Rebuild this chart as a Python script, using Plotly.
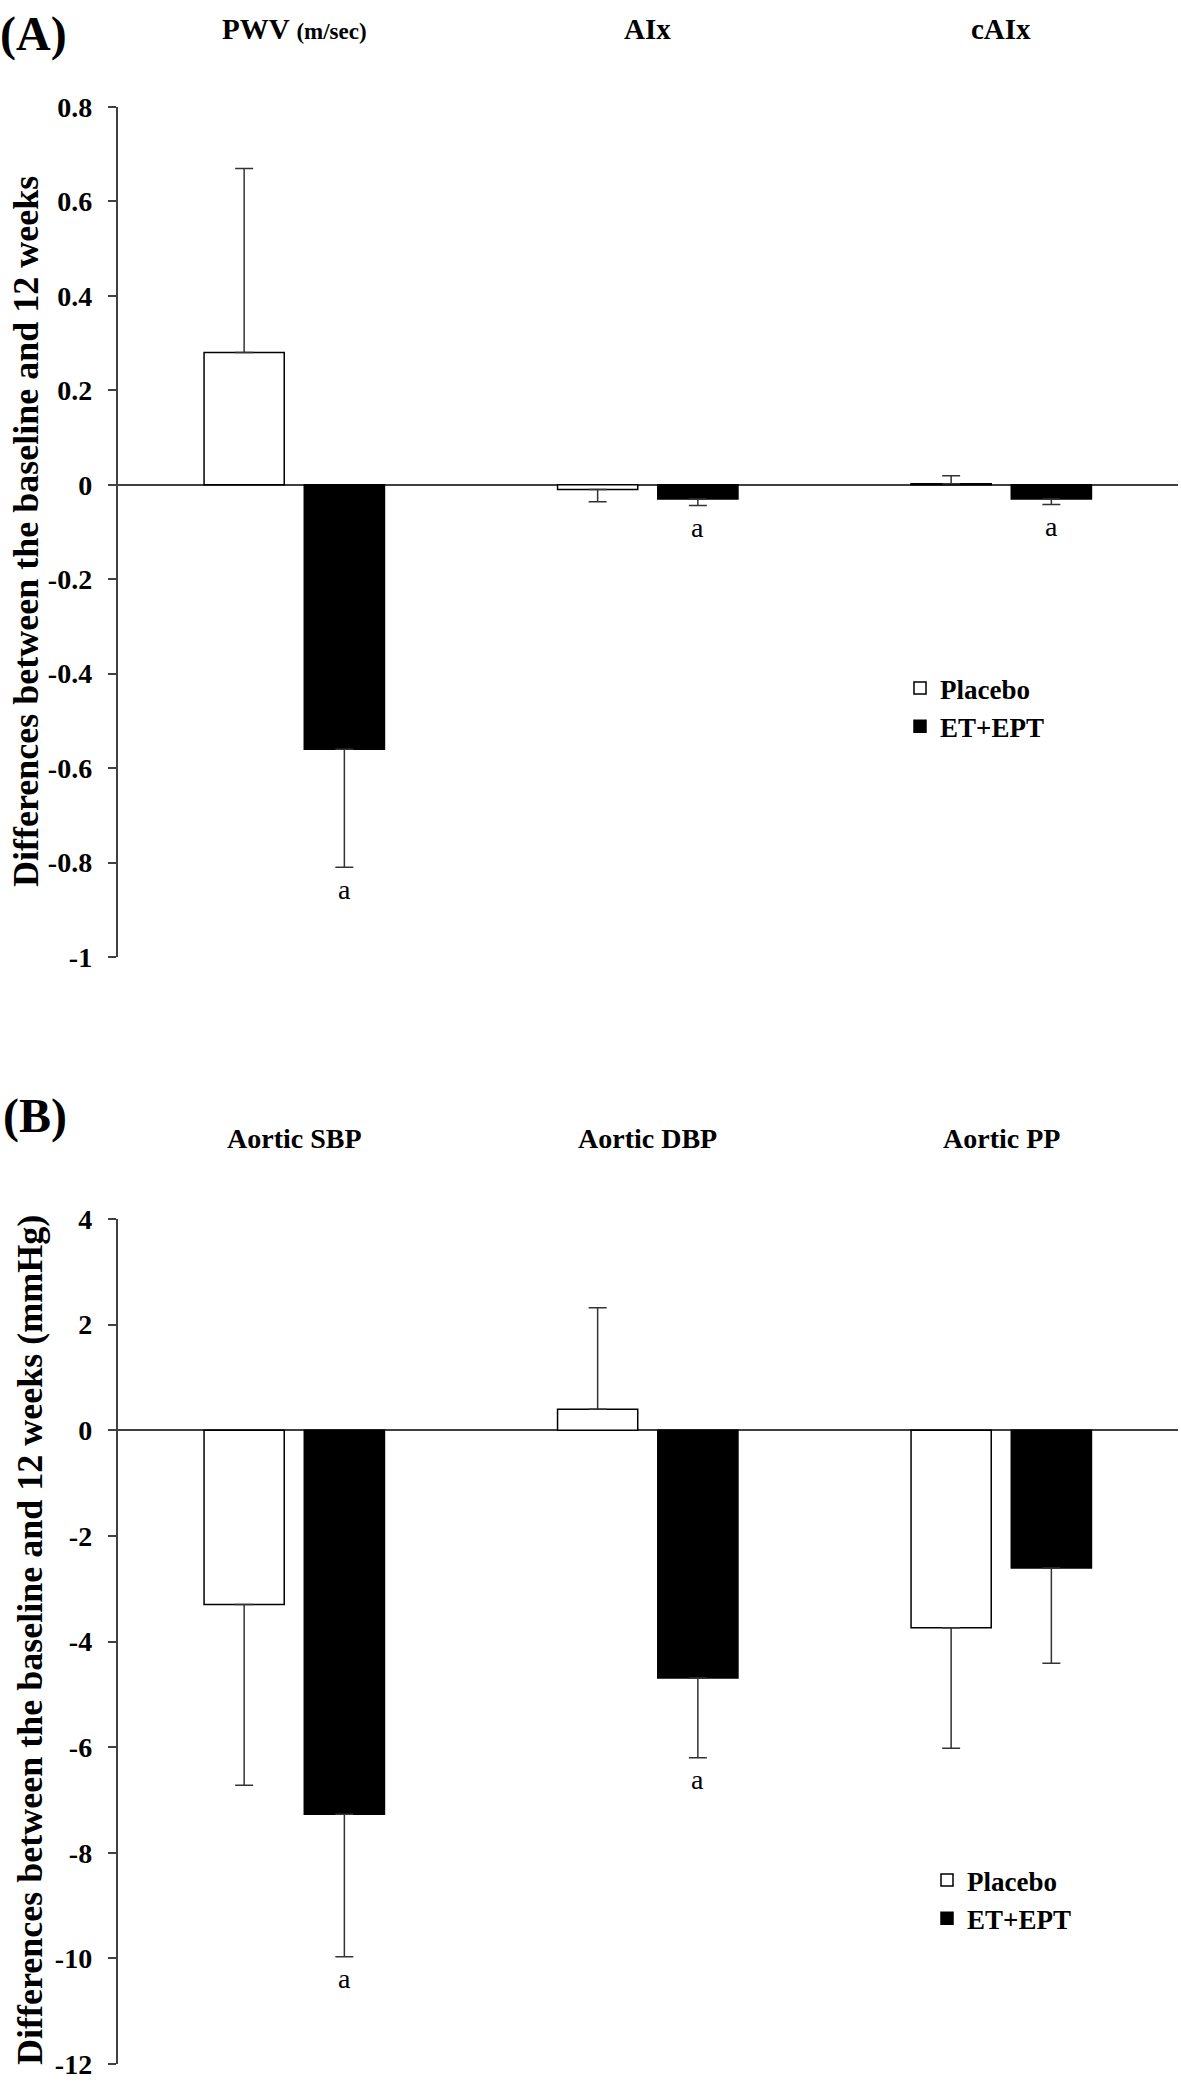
import plotly.graph_objects as go

# ---------------- data ----------------
series_names = ["Placebo", "ET+EPT"]

categories_A = ["PWV", "AIx", "cAIx"]
titles_A = ["<b>PWV </b><b><span style='font-size:23px'>(m/sec)</span></b>", "<b>AIx</b>", "<b>cAIx</b>"]
placebo_A = [0.28, -0.01, 0.002]
placebo_A_err = [0.39, 0.026, 0.017]
et_A = [-0.56, -0.03, -0.03]
et_A_err = [0.25, 0.014, 0.012]
sig_A = ["a", "a", "a"]
ticks_A = [0.8, 0.6, 0.4, 0.2, 0, -0.2, -0.4, -0.6, -0.8, -1]
ticklabels_A = ["0.8", "0.6", "0.4", "0.2", "0", "-0.2", "-0.4", "-0.6", "-0.8", "-1"]

categories_B = ["Aortic SBP", "Aortic DBP", "Aortic PP"]
placebo_B = [-3.3, 0.4, -3.74]
placebo_B_err = [3.42, 1.92, 2.28]
et_B = [-7.27, -4.69, -2.61]
et_B_err = [2.7, 1.51, 1.8]
sig_B = ["a", "a", ""]
ticks_B = [4, 2, 0, -2, -4, -6, -8, -10, -12]
ticklabels_B = ["4", "2", "0", "-2", "-4", "-6", "-8", "-10", "-12"]

ytitle_A = "Differences between the baseline and 12 weeks"
ytitle_B = "Differences between the baseline and 12 weeks (mmHg)"

# ---------------- layout constants ----------------
W, H = 1181, 2084
FONT = "Liberation Serif"
AXC = "#404040"


def px_y(p):
    return 1 - p / H


def one_sided(vals, errs):
    up = [e if v >= 0 else 0 for v, e in zip(vals, errs)]
    dn = [e if v < 0 else 0 for v, e in zip(vals, errs)]
    return up, dn


fig = go.Figure()

panels = [
    ("x", "y", "legend", categories_A, placebo_A, placebo_A_err, et_A, et_A_err),
    ("x2", "y2", "legend2", categories_B, placebo_B, placebo_B_err, et_B, et_B_err),
]
for xa, ya, lg, cats, pv, pe, ev, ee in panels:
    for name, vals, errs, fill in [(series_names[0], pv, pe, "white"), (series_names[1], ev, ee, "black")]:
        up, dn = one_sided(vals, errs)
        fig.add_trace(go.Bar(
            x=cats, y=vals, name=name, xaxis=xa, yaxis=ya, legend=lg,
            marker=dict(color=fill, line=dict(color="black", width=1.5)),
            error_y=dict(type="data", symmetric=False, array=up, arrayminus=dn,
                         color="#333333", thickness=1.5, width=9),
        ))

axis_common_y = dict(
    automargin=False,
    ticks="outside", ticklen=8, tickwidth=1.5, tickcolor=AXC,
    showline=True, linewidth=1.5, linecolor=AXC,
    zeroline=True, zerolinecolor=AXC, zerolinewidth=2,
    showgrid=False, ticklabelstandoff=10, ticklabeloverflow="allow",
    tickfont=dict(family=FONT, size=28, color="black", weight="bold"),
)
axis_common_x = dict(
    automargin=False,
    range=[-0.5, 2.5], showticklabels=False, showgrid=False, zeroline=False,
    showline=False, ticks="", domain=[117.5 / W, 1178 / W],
)

fig.update_layout(
    template="none",
    width=W, height=H,
    margin=dict(l=0, r=0, t=0, b=0, pad=0, autoexpand=False),
    paper_bgcolor="white", plot_bgcolor="white",
    barmode="group", bargap=0.433, bargroupgap=0.2,
    xaxis=dict(anchor="y", **axis_common_x),
    yaxis=dict(anchor="x", domain=[px_y(957), px_y(107)], range=[-1, 0.8],
               tickvals=ticks_A, ticktext=ticklabels_A, **axis_common_y),
    xaxis2=dict(anchor="y2", **axis_common_x),
    yaxis2=dict(anchor="x2", domain=[px_y(2064), px_y(1219)], range=[-12, 4],
                tickvals=ticks_B, ticktext=ticklabels_B, **axis_common_y),
    legend=dict(x=900 / W, y=px_y(664), xanchor="left", yanchor="top",
                font=dict(family=FONT, size=27, color="black", weight="bold"),
                bgcolor="rgba(0,0,0,0)", itemwidth=30, tracegroupgap=0),
    legend2=dict(x=927 / W, y=px_y(1856), xanchor="left", yanchor="top",
                 font=dict(family=FONT, size=27, color="black", weight="bold"),
                 bgcolor="rgba(0,0,0,0)", itemwidth=30, tracegroupgap=0),
    showlegend=True,
)

ann = []
# panel letters
ann.append(dict(text="<b>(A)</b>", x=33 / W, y=px_y(34), xref="paper", yref="paper",
                xanchor="center", yanchor="middle", showarrow=False,
                font=dict(family=FONT, size=48, color="black")))
ann.append(dict(text="<b>(B)</b>", x=35 / W, y=px_y(1116), xref="paper", yref="paper",
                xanchor="center", yanchor="middle", showarrow=False,
                font=dict(family=FONT, size=48, color="black")))
# category titles
for c, t in zip(categories_A, titles_A):
    ann.append(dict(text=t, x=c, xref="x", y=px_y(29), yref="paper", showarrow=False,
                    xanchor="center", yanchor="middle", font=dict(family=FONT, size=29, color="black")))
for c in categories_B:
    ann.append(dict(text="<b>" + c + "</b>", x=c, xref="x2", y=px_y(1138), yref="paper", showarrow=False,
                    xanchor="center", yanchor="middle", font=dict(family=FONT, size=28, color="black")))
# y axis titles
ann.append(dict(text="<b>" + ytitle_A + "</b>", x=26 / W, y=px_y(532), xref="paper", yref="paper",
                textangle=-90, showarrow=False, xanchor="center", yanchor="middle",
                font=dict(family=FONT, size=36, color="black")))
ann.append(dict(text="<b>" + ytitle_B + "</b>", x=30 / W, y=px_y(1640), xref="paper", yref="paper",
                textangle=-90, showarrow=False, xanchor="center", yanchor="middle",
                font=dict(family=FONT, size=36, color="black")))
# significance letters under ET+EPT bars
for xr, yr, cats, vals, errs, sig in [("x", "y", categories_A, et_A, et_A_err, sig_A),
                                      ("x2", "y2", categories_B, et_B, et_B_err, sig_B)]:
    for c, v, e, s in zip(cats, vals, errs, sig):
        if s:
            ann.append(dict(text=s, x=c, xref=xr, y=v - e, yref=yr, showarrow=False,
                            xshift=50, yshift=-22, xanchor="center", yanchor="middle",
                            font=dict(family=FONT, size=28, color="black")))

fig.update_layout(annotations=ann)
fig.write_html("out.html", config={"displayModeBar": False},
               post_script="document.body.style.margin='0';document.body.style.overflow='hidden';")
